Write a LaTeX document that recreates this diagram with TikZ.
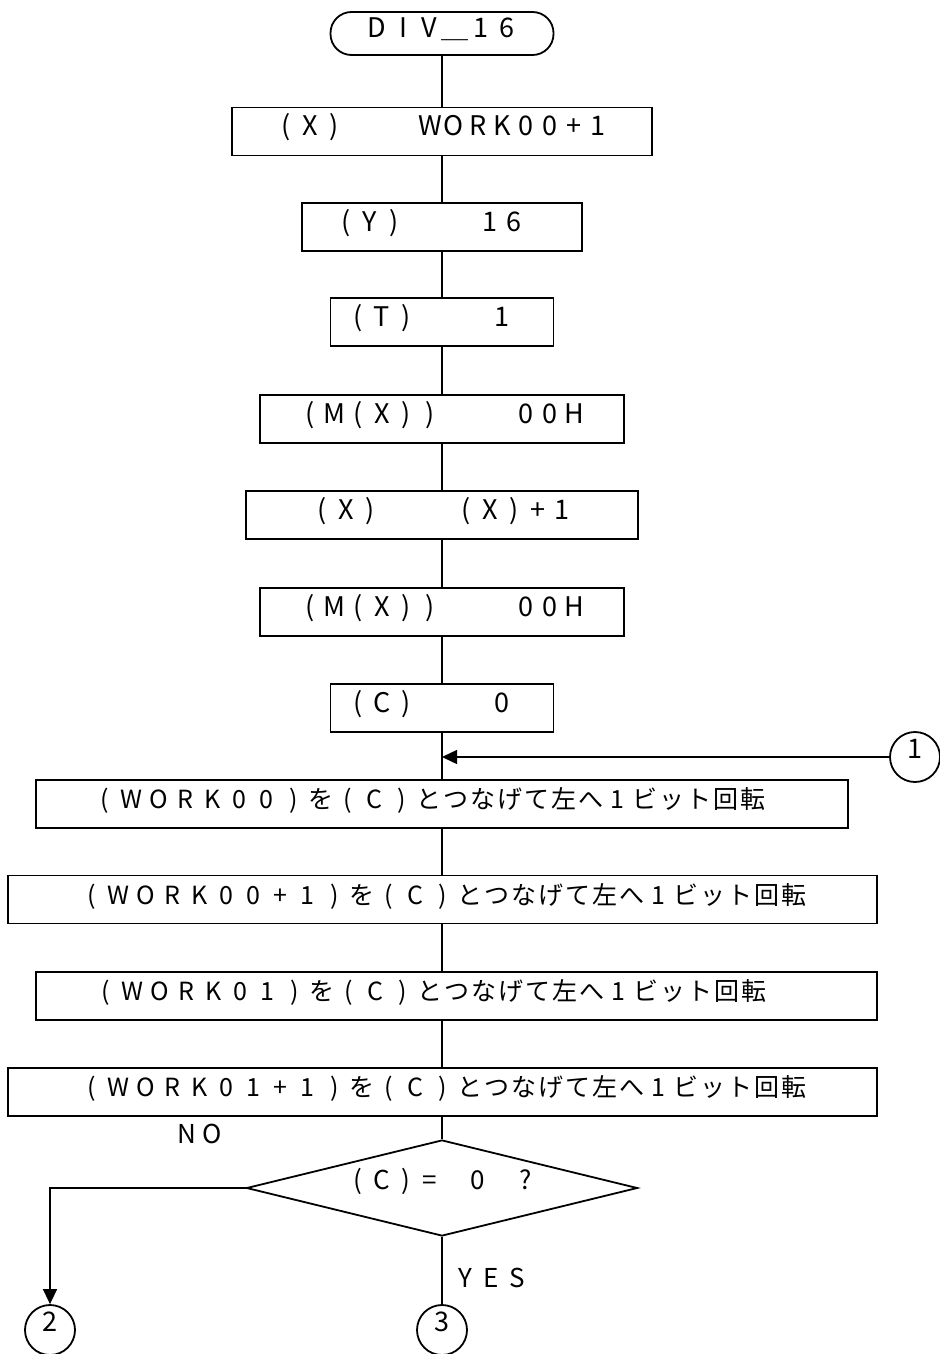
\documentclass[tikz,border=0pt]{standalone}
\usepackage{fontspec}
\setmainfont{Noto Sans CJK JP}
\usetikzlibrary{shapes.geometric,arrows.meta}

% every character in a cell of fixed width
\newlength{\cellw}
\newcommand{\pitched}[2]{\setlength{\cellw}{#1}\pitchloop#2\relax}
\def\pitchloop#1{\ifx#1\relax\else\makebox[\cellw]{#1}\expandafter\pitchloop\fi}

\tikzset{
  termbox/.style={draw, line width=0.9pt, rounded corners=10.5pt,
                  minimum width=111.5pt, minimum height=21.5pt, inner sep=0pt,
                  font=\fontsize{13.5}{15}\selectfont, text height=10pt, text depth=6.1pt},
  procbox/.style={draw, line width=0.9pt, minimum height=24pt, inner sep=0pt,
                  font=\fontsize{13.5}{15}\selectfont, text height=10.5pt, text depth=6.1pt},
  widebox/.style={procbox, font=\fontsize{12.5}{14}\selectfont,
                  text height=10.5pt, text depth=5.8pt},
  decbox/.style={draw, diamond, aspect=4.07, line width=0.9pt, minimum width=195.5pt,
                 minimum height=48pt, inner sep=0pt,
                 font=\fontsize{13}{15}\selectfont, text height=9pt, text depth=7.5pt},
  conn/.style={draw, circle, line width=0.9pt, minimum size=25pt, inner sep=0pt,
               font=\fontsize{13.5}{15}\selectfont, text height=9pt, text depth=7.1pt},
  flow/.style={line width=0.7pt},
  flowArr/.style={flow, -{Triangle[length=7.5pt, width=7pt]}},
  lbl/.style={font=\fontsize{13}{15}\selectfont, inner sep=0pt},
}

\begin{document}
\begin{tikzpicture}[x=0.5pt, y=-0.5pt]
\useasboundingbox (0,0) rectangle (939,1354);

% main sequence
\node[termbox] (start) at (442, 33.5) {\pitched{13pt}{DIV＿16}};
\node[procbox, minimum width=210pt]   (b1) at (442, 131.5) {\pitched{12pt}{(X)　　　WORK00+1}};
\node[procbox, minimum width=140pt]   (b2) at (442, 227)   {\pitched{12pt}{(Y)　　　16　}};
\node[procbox, minimum width=111.5pt] (b3) at (442, 322)   {\pitched{12pt}{(T)　　　1　}};
\node[procbox, minimum width=182pt]   (b4) at (442, 419)   {\pitched{12pt}{(M(X))　　　00H}};
\node[procbox, minimum width=196pt]   (b5) at (442, 515)   {\pitched{12pt}{(X)　　　(X)+1}};
\node[procbox, minimum width=182pt]   (b6) at (442, 612)   {\pitched{12pt}{(M(X))　　　00H}};
\node[procbox, minimum width=111.5pt] (b7) at (442, 708)   {\pitched{12pt}{(C)　　　0　}};

% rotate block
\node[widebox, minimum width=406pt]   (b8)  at (442, 804)     {\pitched{13.5pt}{(WORK00)を(C)とつなげて左へ1ビット回転　}};
\node[widebox, minimum width=434.5pt] (b9)  at (442.5, 899.5) {\pitched{13.5pt}{(WORK00+1)を(C)とつなげて左へ1ビット回転}};
\node[widebox, minimum width=420.5pt] (b10) at (456.5, 996)   {\pitched{13.5pt}{(WORK01)を(C)とつなげて左へ1ビット回転　　}};
\node[widebox, minimum width=434.5pt] (b11) at (442.5, 1092)  {\pitched{13.5pt}{(WORK01+1)を(C)とつなげて左へ1ビット回転}};

\node[decbox] (dec) at (442, 1188) {\pitched{12pt}{(C)=　0　?}};

% connectors
\node[conn] (c1) at (915, 757)  {1};
\node[conn] (c2) at (50, 1330)  {2};
\node[conn] (c3) at (442, 1330) {3};
\coordinate (j1) at (442, 757);

\foreach \a/\b in {start/b1, b1/b2, b2/b3, b3/b4, b4/b5, b5/b6, b6/b7,
                   b7/b8, b8/b9, b9/b10, b10/b11, b11/dec}
  \draw[flow] (start.south |- \a.south) -- (start.south |- \b.north);

\draw[flowArr] (c1.west) -- (j1);
\draw[flowArr] (dec.west) -| (c2.north);
\draw[flow] (dec.south) -- (c3.north);

\node[lbl] (lno)  at (199.5, 1134) {\pitched{12.5pt}{NO}};
\node[lbl] (lyes) at (491.5, 1278) {\pitched{13pt}{YES}};

\end{tikzpicture}
\end{document}
